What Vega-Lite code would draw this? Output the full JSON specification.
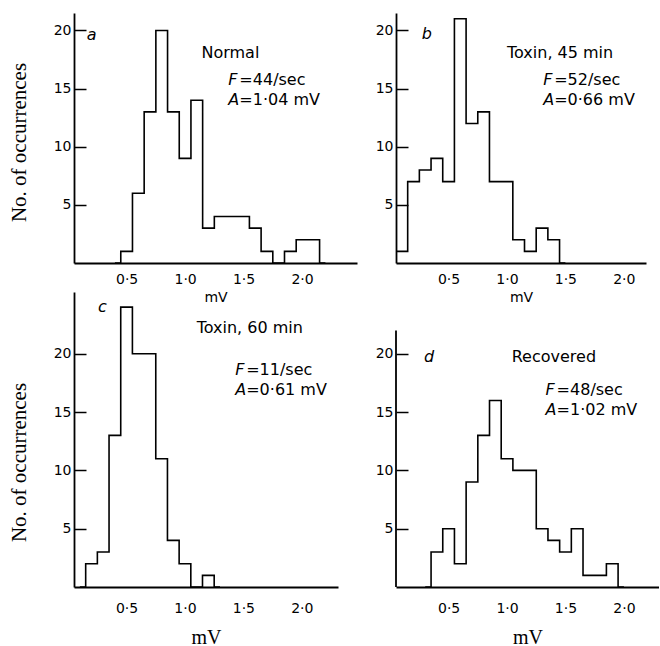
{
  "$schema": "https://vega.github.io/schema/vega-lite/v6.json",
  "padding": {"left": 8, "top": 13, "right": 0, "bottom": 0},
  "background": "white",
  "config": {
    "view": {"stroke": null},
    "axis": {"grid": false, "domainColor": "black", "domainWidth": 1.8, "labelColor": "black", "titleColor": "black", "tickColor": "black", "tickWidth": 1.5, "labelFont": "DejaVu Sans", "labelFontSize": 14, "labelFontWeight": "normal"},
    "text": {"font": "DejaVu Sans", "fontSize": 16, "color": "black", "align": "left", "baseline": "middle"}
  },
  "datasets": {
    "bins": [
      {"p": "a", "mv": 0.4, "n": 0}, {"p": "a", "mv": 0.5, "n": 1}, {"p": "a", "mv": 0.6, "n": 6}, {"p": "a", "mv": 0.7, "n": 13}, {"p": "a", "mv": 0.8, "n": 20}, {"p": "a", "mv": 0.9, "n": 13}, {"p": "a", "mv": 1.0, "n": 9}, {"p": "a", "mv": 1.1, "n": 14}, {"p": "a", "mv": 1.2, "n": 3}, {"p": "a", "mv": 1.3, "n": 4}, {"p": "a", "mv": 1.4, "n": 4}, {"p": "a", "mv": 1.5, "n": 4}, {"p": "a", "mv": 1.6, "n": 3}, {"p": "a", "mv": 1.7, "n": 1}, {"p": "a", "mv": 1.8, "n": 0}, {"p": "a", "mv": 1.9, "n": 1}, {"p": "a", "mv": 2.0, "n": 2}, {"p": "a", "mv": 2.1, "n": 2}, {"p": "a", "mv": 2.2, "n": 0},
      {"p": "b", "mv": 0.0, "n": 0}, {"p": "b", "mv": 0.1, "n": 1}, {"p": "b", "mv": 0.2, "n": 7}, {"p": "b", "mv": 0.3, "n": 8}, {"p": "b", "mv": 0.4, "n": 9}, {"p": "b", "mv": 0.5, "n": 7}, {"p": "b", "mv": 0.6, "n": 21}, {"p": "b", "mv": 0.7, "n": 12}, {"p": "b", "mv": 0.8, "n": 13}, {"p": "b", "mv": 0.9, "n": 7}, {"p": "b", "mv": 1.0, "n": 7}, {"p": "b", "mv": 1.1, "n": 2}, {"p": "b", "mv": 1.2, "n": 1}, {"p": "b", "mv": 1.3, "n": 3}, {"p": "b", "mv": 1.4, "n": 2}, {"p": "b", "mv": 1.5, "n": 0},
      {"p": "c", "mv": 0.1, "n": 0}, {"p": "c", "mv": 0.2, "n": 2}, {"p": "c", "mv": 0.3, "n": 3}, {"p": "c", "mv": 0.4, "n": 13}, {"p": "c", "mv": 0.5, "n": 24}, {"p": "c", "mv": 0.6, "n": 20}, {"p": "c", "mv": 0.7, "n": 20}, {"p": "c", "mv": 0.8, "n": 11}, {"p": "c", "mv": 0.9, "n": 4}, {"p": "c", "mv": 1.0, "n": 2}, {"p": "c", "mv": 1.1, "n": 0}, {"p": "c", "mv": 1.2, "n": 1}, {"p": "c", "mv": 1.3, "n": 0},
      {"p": "d", "mv": 0.3, "n": 0}, {"p": "d", "mv": 0.4, "n": 3}, {"p": "d", "mv": 0.5, "n": 5}, {"p": "d", "mv": 0.6, "n": 2}, {"p": "d", "mv": 0.7, "n": 9}, {"p": "d", "mv": 0.8, "n": 13}, {"p": "d", "mv": 0.9, "n": 16}, {"p": "d", "mv": 1.0, "n": 11}, {"p": "d", "mv": 1.1, "n": 10}, {"p": "d", "mv": 1.2, "n": 10}, {"p": "d", "mv": 1.3, "n": 5}, {"p": "d", "mv": 1.4, "n": 4}, {"p": "d", "mv": 1.5, "n": 3}, {"p": "d", "mv": 1.6, "n": 5}, {"p": "d", "mv": 1.7, "n": 1}, {"p": "d", "mv": 1.8, "n": 1}, {"p": "d", "mv": 1.9, "n": 2}, {"p": "d", "mv": 2.0, "n": 0}
    ],
    "notes": [
      {"p": "a", "kind": "letter", "x": 0.16, "y": 19.6, "t": "a"},
      {"p": "a", "kind": "title", "x": 1.14, "y": 18.1, "t": "Normal"},
      {"p": "a", "kind": "stat", "x": 1.37, "y": 15.7, "sym": "F", "t": "=44/sec"},
      {"p": "a", "kind": "stat", "x": 1.37, "y": 14.0, "sym": "A", "t": "=1·04 mV"},
      {"p": "b", "kind": "letter", "x": 0.27, "y": 19.7, "t": "b"},
      {"p": "b", "kind": "title", "x": 1.0, "y": 18.1, "t": "Toxin, 45 min"},
      {"p": "b", "kind": "stat", "x": 1.31, "y": 15.7, "sym": "F", "t": "=52/sec"},
      {"p": "b", "kind": "stat", "x": 1.31, "y": 14.0, "sym": "A", "t": "=0·66 mV"},
      {"p": "c", "kind": "letter", "x": 0.255, "y": 24.0, "t": "c"},
      {"p": "c", "kind": "title", "x": 1.1, "y": 22.2, "t": "Toxin, 60 min"},
      {"p": "c", "kind": "stat", "x": 1.43, "y": 18.6, "sym": "F", "t": "=11/sec"},
      {"p": "c", "kind": "stat", "x": 1.43, "y": 16.9, "sym": "A", "t": "=0·61 mV"},
      {"p": "d", "kind": "letter", "x": 0.29, "y": 19.7, "t": "d"},
      {"p": "d", "kind": "title", "x": 1.04, "y": 19.7, "t": "Recovered"},
      {"p": "d", "kind": "stat", "x": 1.33, "y": 16.9, "sym": "F", "t": "=48/sec"},
      {"p": "d", "kind": "stat", "x": 1.33, "y": 15.2, "sym": "A", "t": "=1·02 mV"}
    ]
  },
  "columns": 2,
  "spacing": {"row": 29, "column": 39},
  "bounds": "flush",
  "concat": [
    {
      "width": 283, "height": 250,
      "layer": [
        {"data": {"name": "bins"}, "transform": [{"filter": "datum.p == 'a'"}],
         "mark": {"type": "line", "interpolate": "step", "clip": true, "color": "black", "strokeWidth": 1.6},
         "encoding": {
           "x": {"field": "mv", "type": "quantitative", "scale": {"domain": [0.05, 2.47], "nice": false, "zero": false},
                 "axis": {"values": [0.5, 1, 1.5, 2], "labelExpr": "replace(format(datum.value, '.1f'), '.', '·')", "ticks": false, "tickSize": 0, "labelPadding": 9, "title": "mV", "titleFont": "DejaVu Sans", "titleFontSize": 14, "titleFontWeight": "normal", "titlePadding": 4}},
           "y": {"field": "n", "type": "quantitative", "scale": {"domain": [0, 21.5], "nice": false},
                 "axis": {"values": [5, 10, 15, 20], "tickSize": -12, "labelPadding": 15, "title": "No. of occurrences", "titleFont": "Liberation Serif", "titleFontSize": 21, "titleFontWeight": "normal", "titlePadding": 24, "titleY": 129}}
         }},
        {"data": {"name": "notes"}, "transform": [{"filter": "datum.p == 'a' && datum.kind == 'letter'"}],
         "mark": {"type": "text", "fontStyle": "italic"},
         "encoding": {"x": {"field": "x", "type": "quantitative"}, "y": {"field": "y", "type": "quantitative"}, "text": {"field": "t"}}},
        {"data": {"name": "notes"}, "transform": [{"filter": "datum.p == 'a' && datum.kind == 'title'"}],
         "mark": {"type": "text"},
         "encoding": {"x": {"field": "x", "type": "quantitative"}, "y": {"field": "y", "type": "quantitative"}, "text": {"field": "t"}}},
        {"data": {"name": "notes"}, "transform": [{"filter": "datum.p == 'a' && datum.kind == 'stat'"}],
         "mark": {"type": "text", "fontStyle": "italic"},
         "encoding": {"x": {"field": "x", "type": "quantitative"}, "y": {"field": "y", "type": "quantitative"}, "text": {"field": "sym"}}},
        {"data": {"name": "notes"}, "transform": [{"filter": "datum.p == 'a' && datum.kind == 'stat'"}],
         "mark": {"type": "text", "dx": 11},
         "encoding": {"x": {"field": "x", "type": "quantitative"}, "y": {"field": "y", "type": "quantitative"}, "text": {"field": "t"}}}
      ]
    },
    {
      "width": 250, "height": 250,
      "layer": [
        {"data": {"name": "bins"}, "transform": [{"filter": "datum.p == 'b'"}],
         "mark": {"type": "line", "interpolate": "step", "clip": true, "color": "black", "strokeWidth": 1.6},
         "encoding": {
           "x": {"field": "mv", "type": "quantitative", "scale": {"domain": [0.05, 2.19], "nice": false, "zero": false},
                 "axis": {"values": [0.5, 1, 1.5, 2], "labelExpr": "replace(format(datum.value, '.1f'), '.', '·')", "ticks": false, "tickSize": 0, "labelPadding": 9, "title": "mV", "titleFont": "DejaVu Sans", "titleFontSize": 14, "titleFontWeight": "normal", "titlePadding": 4}},
           "y": {"field": "n", "type": "quantitative", "scale": {"domain": [0, 21.5], "nice": false},
                 "axis": {"values": [5, 10, 15, 20], "tickSize": -12, "labelPadding": 15, "title": null}}
         }},
        {"data": {"name": "notes"}, "transform": [{"filter": "datum.p == 'b' && datum.kind == 'letter'"}],
         "mark": {"type": "text", "fontStyle": "italic"},
         "encoding": {"x": {"field": "x", "type": "quantitative"}, "y": {"field": "y", "type": "quantitative"}, "text": {"field": "t"}}},
        {"data": {"name": "notes"}, "transform": [{"filter": "datum.p == 'b' && datum.kind == 'title'"}],
         "mark": {"type": "text"},
         "encoding": {"x": {"field": "x", "type": "quantitative"}, "y": {"field": "y", "type": "quantitative"}, "text": {"field": "t"}}},
        {"data": {"name": "notes"}, "transform": [{"filter": "datum.p == 'b' && datum.kind == 'stat'"}],
         "mark": {"type": "text", "fontStyle": "italic"},
         "encoding": {"x": {"field": "x", "type": "quantitative"}, "y": {"field": "y", "type": "quantitative"}, "text": {"field": "sym"}}},
        {"data": {"name": "notes"}, "transform": [{"filter": "datum.p == 'b' && datum.kind == 'stat'"}],
         "mark": {"type": "text", "dx": 11},
         "encoding": {"x": {"field": "x", "type": "quantitative"}, "y": {"field": "y", "type": "quantitative"}, "text": {"field": "t"}}}
      ]
    },
    {
      "width": 264, "height": 295,
      "layer": [
        {"data": {"name": "bins"}, "transform": [{"filter": "datum.p == 'c'"}],
         "mark": {"type": "line", "interpolate": "step", "clip": true, "color": "black", "strokeWidth": 1.6},
         "encoding": {
           "x": {"field": "mv", "type": "quantitative", "scale": {"domain": [0.05, 2.31], "nice": false, "zero": false},
                 "axis": {"values": [0.5, 1, 1.5, 2], "labelExpr": "replace(format(datum.value, '.1f'), '.', '·')", "ticks": false, "tickSize": 0, "labelPadding": 14, "title": "mV", "titleFont": "Liberation Serif", "titleFontSize": 20, "titleFontWeight": "normal", "titlePadding": 12}},
           "y": {"field": "n", "type": "quantitative", "scale": {"domain": [0, 25.3], "nice": false},
                 "axis": {"values": [5, 10, 15, 20], "tickSize": -12, "labelPadding": 15, "title": "No. of occurrences", "titleFont": "Liberation Serif", "titleFontSize": 21, "titleFontWeight": "normal", "titlePadding": 24, "titleY": 170}}
         }},
        {"data": {"name": "notes"}, "transform": [{"filter": "datum.p == 'c' && datum.kind == 'letter'"}],
         "mark": {"type": "text", "fontStyle": "italic"},
         "encoding": {"x": {"field": "x", "type": "quantitative"}, "y": {"field": "y", "type": "quantitative"}, "text": {"field": "t"}}},
        {"data": {"name": "notes"}, "transform": [{"filter": "datum.p == 'c' && datum.kind == 'title'"}],
         "mark": {"type": "text"},
         "encoding": {"x": {"field": "x", "type": "quantitative"}, "y": {"field": "y", "type": "quantitative"}, "text": {"field": "t"}}},
        {"data": {"name": "notes"}, "transform": [{"filter": "datum.p == 'c' && datum.kind == 'stat'"}],
         "mark": {"type": "text", "fontStyle": "italic"},
         "encoding": {"x": {"field": "x", "type": "quantitative"}, "y": {"field": "y", "type": "quantitative"}, "text": {"field": "sym"}}},
        {"data": {"name": "notes"}, "transform": [{"filter": "datum.p == 'c' && datum.kind == 'stat'"}],
         "mark": {"type": "text", "dx": 11},
         "encoding": {"x": {"field": "x", "type": "quantitative"}, "y": {"field": "y", "type": "quantitative"}, "text": {"field": "t"}}}
      ]
    },
    {
      "width": 263, "height": 295,
      "layer": [
        {"data": {"name": "bins"}, "transform": [{"filter": "datum.p == 'd'"}],
         "mark": {"type": "line", "interpolate": "step", "clip": true, "color": "black", "strokeWidth": 1.6},
         "encoding": {
           "x": {"field": "mv", "type": "quantitative", "scale": {"domain": [0.05, 2.3], "nice": false, "zero": false},
                 "axis": {"values": [0.5, 1, 1.5, 2], "labelExpr": "replace(format(datum.value, '.1f'), '.', '·')", "ticks": false, "tickSize": 0, "labelPadding": 14, "title": "mV", "titleFont": "Liberation Serif", "titleFontSize": 20, "titleFontWeight": "normal", "titlePadding": 12}},
           "y": {"field": "n", "type": "quantitative", "scale": {"domain": [0, 25.3], "nice": false},
                 "axis": {"values": [5, 10, 15, 20], "tickSize": -12, "labelPadding": 15, "title": null, "domain": false}}
         }},
        {"data": {"values": [{"axis": "y"}]},
         "mark": {"type": "rule", "color": "black", "strokeWidth": 1.8},
         "encoding": {"x": {"datum": 0.05}, "y": {"datum": 0}, "y2": {"datum": 22}}},
        {"data": {"name": "notes"}, "transform": [{"filter": "datum.p == 'd' && datum.kind == 'letter'"}],
         "mark": {"type": "text", "fontStyle": "italic"},
         "encoding": {"x": {"field": "x", "type": "quantitative"}, "y": {"field": "y", "type": "quantitative"}, "text": {"field": "t"}}},
        {"data": {"name": "notes"}, "transform": [{"filter": "datum.p == 'd' && datum.kind == 'title'"}],
         "mark": {"type": "text"},
         "encoding": {"x": {"field": "x", "type": "quantitative"}, "y": {"field": "y", "type": "quantitative"}, "text": {"field": "t"}}},
        {"data": {"name": "notes"}, "transform": [{"filter": "datum.p == 'd' && datum.kind == 'stat'"}],
         "mark": {"type": "text", "fontStyle": "italic"},
         "encoding": {"x": {"field": "x", "type": "quantitative"}, "y": {"field": "y", "type": "quantitative"}, "text": {"field": "sym"}}},
        {"data": {"name": "notes"}, "transform": [{"filter": "datum.p == 'd' && datum.kind == 'stat'"}],
         "mark": {"type": "text", "dx": 11},
         "encoding": {"x": {"field": "x", "type": "quantitative"}, "y": {"field": "y", "type": "quantitative"}, "text": {"field": "t"}}}
      ]
    }
  ]
}
